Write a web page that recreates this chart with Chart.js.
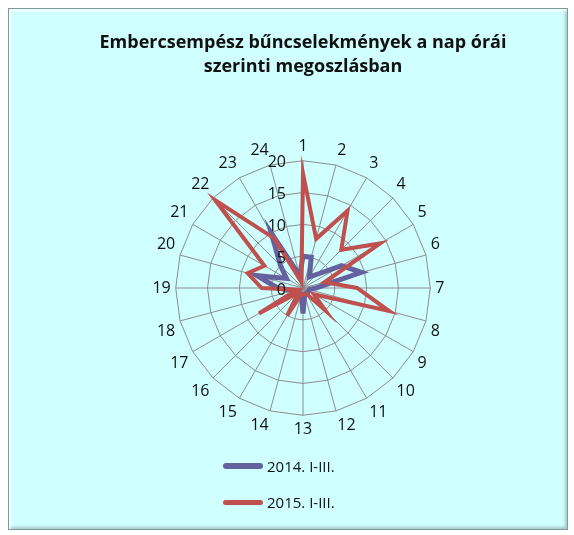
<!DOCTYPE html>
<html>
<head>
<meta charset="utf-8">
<script src="https://cdn.jsdelivr.net/npm/chart.js@4"></script>
<style>
    html, body { margin: 0; padding: 0; background: #fff; width: 574px; height: 535px; overflow: hidden; }
    #panel {
        position: absolute; left: 8px; top: 8px; width: 558px; height: 520px;
        background: #cfffff; border: 1px solid #7f9a9a;
        box-shadow: inset 2px 2px 3px #f4ffff, inset -2px -2px 3px #a8c8c8;
    }
    #chartBox { position: absolute; left: 0; top: 0; width: 558px; height: 450px; }
    #legend { position: absolute; left: 214px; top: 439px; font-family: "Open Sans", sans-serif; font-size: 15px; color: #111; }
    .leg-item { display: flex; align-items: center; height: 36px; }
    .leg-line { width: 40px; border-radius: 3px; margin-right: 4px; }
</style>
</head>
<body>
<div id="panel">
    <div id="chartBox"><canvas id="radarChart"></canvas></div>
    <div id="legend"></div>
</div>
<script>
// hours of the day
const hours = ['1', '2', '3', '4', '5', '6', '7', '8', '9', '10', '11', '12',
               '13', '14', '15', '16', '17', '18', '19', '20', '21', '22', '23', '24'];
const series2014 = [5, 5, 2, 3, 7, 9.5, 2, 1, 1, 1, 1, 1, 4, 1, 1, 1, 1, 1.5, 4, 7.5, 3, 5, 10, 2];
const series2015 = [18, 8, 14, 8.5, 14, 3.5, 8.5, 14, 2, 5, 1, 1, 1, 1, 5, 1, 8, 1, 6.5, 9, 7, 19.5, 9, 1];
const tickValues = [0, 5, 10, 15, 20];

// tick labels drawn left of the vertical axis, like in excel
const sideTicks = {
    id: 'sideTicks',
    afterDatasetsDraw(chart) {
        const r = chart.scales.r;
        const ctx = chart.ctx;
        ctx.save();
        ctx.font = '16px "Open Sans", sans-serif';
        ctx.fillStyle = '#111';
        ctx.textAlign = 'right';
        ctx.textBaseline = 'middle';
        tickValues.forEach(v => {
            const d = r.getDistanceFromCenterForValue(v);
            ctx.fillText(String(v), r.xCenter - 17, r.yCenter - d + 2);
        });
        ctx.restore();
    }
};

const chart = new Chart(document.getElementById('radarChart').getContext('2d'), {
    type: 'radar',
    data: {
        labels: hours,
        datasets: [{
            label: '2014. I-III.',
            data: series2014,
            borderColor: '#64619e',
            borderWidth: 5,
            fill: false,
            pointRadius: 0,
            order: 2
        }, {
            label: '2015. I-III.',
            data: series2015,
            borderColor: '#c0504d',
            borderWidth: 4,
            fill: false,
            pointRadius: 0,
            order: 1
        }]
    },
    options: {
        responsive: true,
        maintainAspectRatio: false,
        animation: false,
        layout: { padding: { top: 10, bottom: 19, left: 30, right: 0 } },
        plugins: {
            legend: { display: false },
            tooltip: { enabled: false },
            title: {
                display: true,
                text: ['Embercsempész bűncselekmények a nap órái', 'szerinti megoszlásban'],
                color: '#111',
                font: { family: '"Open Sans", sans-serif', size: 18, weight: 'bold', lineHeight: 1.32 },
                padding: { top: 12, bottom: 58 }
            }
        },
        scales: {
            r: {
                min: 0,
                max: 20,
                ticks: { stepSize: 5, display: false },
                grid: { color: '#8c8c8c', lineWidth: 1 },
                angleLines: { color: '#8c8c8c', lineWidth: 1 },
                pointLabels: {
                    color: '#111',
                    padding: 5,
                    font: { family: '"Open Sans", sans-serif', size: 16 }
                }
            }
        }
    },
    plugins: [sideTicks]
});

// legend stacked vertically under the chart
document.getElementById('legend').innerHTML = chart.data.datasets.map(ds => `
    <div class="leg-item">
        <span class="leg-line" style="height:${ds.borderWidth + 1}px;background:${ds.borderColor}"></span>${ds.label}
    </div>
`).join('');
</script>
</body>
</html>
